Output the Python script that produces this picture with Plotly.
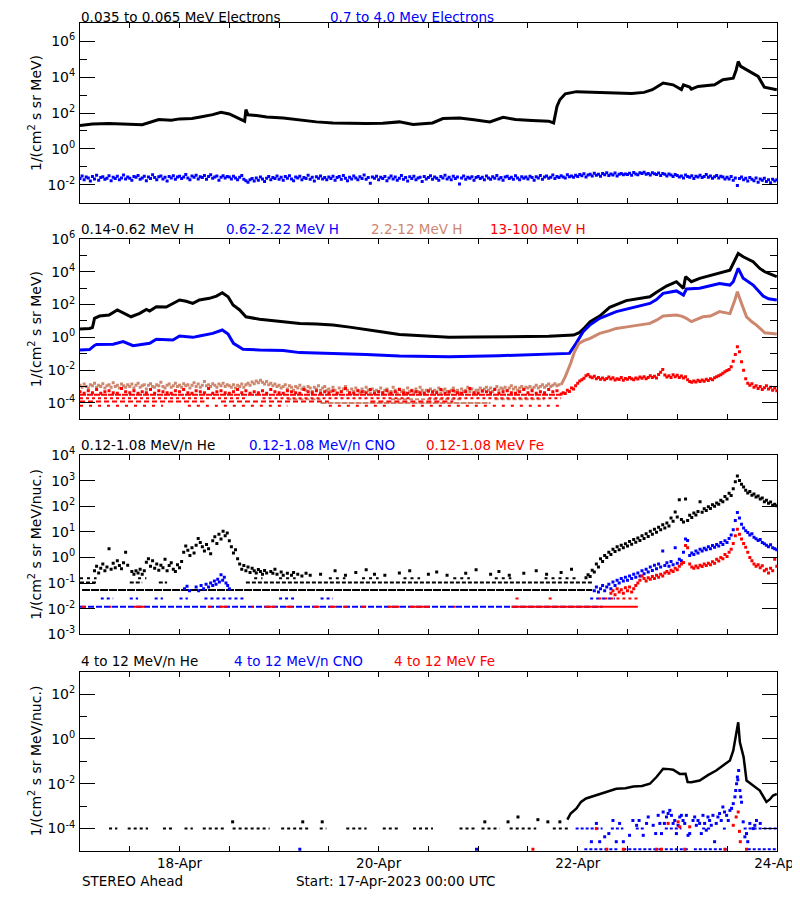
import plotly.graph_objects as go
from plotly.subplots import make_subplots
import pandas as pd

BASE = pd.Timestamp("2023-04-17 00:00")
END = pd.Timestamp("2023-04-24 00:00")

BLACK = "#000000"
BLUE = "#0000FF"
RED = "#FF0000"
BROWN = "#CD876E"

# ---------------- Panel 1 : electrons ----------------
E_LOW_HOURS = [0, 3, 7, 11, 15, 19, 22, 24, 27, 29, 32, 34, 36, 38.5, 39.7, 40, 40.5, 43, 45, 49,
               53, 57, 61, 65, 69, 73, 77, 80.3, 83, 85, 87.5, 91.5, 95, 98.8, 102, 105, 109, 113, 114.2, 114.6,
               115, 115.7, 117, 119.7, 122, 125, 129, 133, 136, 138, 140.6, 143, 145, 145.5, 147, 147.4, 149, 153, 155, 157.5,
               158.2, 158.7, 159.3, 161.5, 163.5, 165, 166.5, 168]
E_LOW = [20, 24, 26, 24, 22, 43, 40, 47, 50, 60, 81, 110, 89, 47, 35, 155, 79, 71, 60, 52,
         39, 32, 28, 26, 26, 27, 32, 23, 25, 28, 49, 52, 42, 32, 58, 43, 38, 35, 28, 79,
         234, 550, 1175, 1550, 1510, 1410, 1350, 1230, 1410, 2000, 4680, 3720, 2000, 3720, 2820, 2140, 3020, 3720, 7080, 8710,
         25100, 74000, 39800, 20400, 11000, 2750, 2240, 2000]

# 0.7-4.0 MeV electrons, half-hourly samples from 17-Apr 00:00
E_HIGH = [
    0.022, 0.031, 0.019, 0.027, 0.024, 0.016, 0.029, 0.021, 0.034, 0.018, 0.025, 0.028, 0.020, 0.023, 0.032, 0.017, 0.026, 0.022, 0.030, 0.019, 0.024, 0.035, 0.021, 0.027,
    0.023, 0.018, 0.029, 0.026, 0.033, 0.020, 0.024, 0.030, 0.017, 0.027, 0.022, 0.036, 0.025, 0.019, 0.028, 0.031, 0.021, 0.026, 0.016, 0.029, 0.024, 0.032, 0.020, 0.027,
    0.030, 0.022, 0.027, 0.037, 0.024, 0.019, 0.031, 0.026, 0.034, 0.021, 0.028, 0.025, 0.033, 0.020, 0.029, 0.036, 0.023, 0.027, 0.031, 0.018, 0.026, 0.032, 0.024, 0.029,
    0.027, 0.021, 0.030, 0.024, 0.019, 0.026, 0.033, 0.020, 0.017, 0.014, 0.019, 0.022, 0.016, 0.024, 0.018, 0.027, 0.021, 0.015, 0.023, 0.029, 0.019, 0.025, 0.022, 0.031,
    0.020, 0.026, 0.018, 0.029, 0.023, 0.032, 0.021, 0.017, 0.027, 0.024, 0.030, 0.019, 0.025, 0.022, 0.034, 0.020, 0.026, 0.016, 0.028, 0.023, 0.031, 0.021, 0.025, 0.019,
    0.027, 0.022, 0.030, 0.018, 0.025, 0.029, 0.020, 0.033, 0.023, 0.017, 0.026, 0.021, 0.031, 0.024, 0.019, 0.028, 0.022, 0.035, 0.020, 0.025, 0.012, 0.027, 0.023, 0.030,
    0.019, 0.026, 0.022, 0.029, 0.017, 0.024, 0.031, 0.021, 0.027, 0.018, 0.023, 0.033, 0.020, 0.025, 0.016, 0.028, 0.022, 0.030, 0.019, 0.024, 0.026, 0.015, 0.029, 0.021,
    0.025, 0.032, 0.020, 0.027, 0.023, 0.018, 0.029, 0.024, 0.034, 0.021, 0.026, 0.019, 0.030, 0.022, 0.027, 0.011, 0.024, 0.031, 0.020, 0.026, 0.023, 0.028, 0.018, 0.025,
    0.029, 0.022, 0.026, 0.019, 0.031, 0.024, 0.020, 0.028, 0.023, 0.033, 0.021, 0.025, 0.018, 0.027, 0.030, 0.022, 0.026, 0.020, 0.032, 0.024, 0.019, 0.028, 0.023, 0.027,
    0.021, 0.030, 0.025, 0.018, 0.028, 0.024, 0.033, 0.020, 0.027, 0.031, 0.023, 0.026, 0.035, 0.022, 0.029, 0.025, 0.032, 0.027, 0.024, 0.036, 0.028, 0.031, 0.026, 0.034,
    0.029, 0.037, 0.032, 0.041, 0.027, 0.035, 0.039, 0.031, 0.044, 0.034, 0.038, 0.030, 0.042, 0.036, 0.047, 0.033, 0.040, 0.035, 0.045, 0.031, 0.038, 0.043, 0.036, 0.040,
    0.037, 0.044, 0.034, 0.049, 0.040, 0.036, 0.046, 0.042, 0.050, 0.038, 0.043, 0.035, 0.047, 0.041, 0.037, 0.045, 0.033, 0.042, 0.038, 0.031, 0.040, 0.035, 0.029, 0.037,
    0.033, 0.027, 0.031, 0.024, 0.035, 0.029, 0.026, 0.032, 0.022, 0.030, 0.027, 0.034, 0.025, 0.029, 0.037, 0.026, 0.031, 0.023, 0.028, 0.033, 0.024, 0.030, 0.027, 0.021,
    0.026, 0.021, 0.029, 0.018, 0.024, 0.009, 0.022, 0.027, 0.019, 0.023, 0.016, 0.025, 0.020, 0.017, 0.024, 0.014, 0.021, 0.018, 0.023, 0.015, 0.019, 0.013, 0.020, 0.016,
    0.019]

# ---------------- Panel 2 : protons ----------------
H_LOW_HOURS = [0, 2.3, 3.0, 3.5, 4.7, 7, 9, 10.4, 12.3, 14.4, 16, 16.8, 18.4, 20.8, 22.4, 24, 25.6, 27.2, 28.8, 31.2,
               32.9, 34.3, 35.7, 36.9, 38.5, 40, 43.3, 49, 53, 57, 61, 65, 69, 73, 77, 83, 89, 95, 101, 107,
               113, 119, 120.5, 121.7, 123, 125.3, 127.7, 131.7, 137.4, 139, 141.4, 143.8, 145.2, 145.5, 146, 147.4, 149.4, 153.4, 156.7, 157.5,
               158.7, 159.9, 162.3, 163.9, 165.1, 166.5, 168]
H_LOW = [3.2, 3.5, 4.0, 14.5, 20, 23, 47, 32, 18, 29, 51, 40, 74, 71, 117, 190, 158, 117, 190, 240,
         330, 525, 300, 93, 47, 18, 12.6, 9.1, 7.1, 6.6, 5.6, 4.2, 3.1, 2.1, 1.5, 1.26, 1.0, 1.05, 1.1, 1.07,
         1.15, 1.38, 2.0, 4.0, 9.1, 20, 68, 174, 300, 560, 1350, 2500, 1260, 980, 5000, 2500, 4000, 7200, 12600, 32000,
         132000, 83000, 41000, 16000, 10000, 7100, 5000]

H_MID_HOURS = [0, 2.3, 3.5, 4, 8, 10.4, 12.8, 16.8, 18.4, 22.4, 24, 27.2, 28.8, 32, 34.3, 35.7, 37, 39.3, 43.3, 49,
               53, 61, 69, 77, 89, 101, 109, 117, 118, 119.6, 121.3, 122.9, 125.3, 129.3, 133.4, 137.4, 139, 140.6, 143.8, 145.2,
               145.5, 146.2, 149.4, 154.2, 156.7, 157.5, 158.7, 159.9, 162.3, 164.7, 166, 168]
H_MID = [0.17, 0.18, 0.32, 0.37, 0.38, 0.55, 0.31, 0.43, 0.76, 0.69, 1.2, 1.0, 1.2, 1.74, 2.8, 1.6, 0.43, 0.19, 0.17, 0.16,
         0.117, 0.105, 0.091, 0.072, 0.066, 0.076, 0.087, 0.095, 0.105, 0.43, 2.2, 5.6, 14.5, 37, 68, 117, 200, 480, 680, 450,
         380, 890, 980, 1950, 1550, 2450, 16200, 4000, 1550, 330, 225, 190]

H_HIGH_HOURS = [116, 117, 118.3, 119.2, 120.3, 121.5, 123, 125.3, 127.5, 129.3, 131.5, 133.4, 135.5, 137.4, 139, 140.6,
                143.8, 145.2, 146.2, 147.4, 150.2, 152, 154.2, 156.7, 157.9, 158.5, 159.5, 160.7, 162, 163.1, 165.1, 168]
H_HIGH = [1.26e-3, 4e-3, 0.026, 0.126, 0.43, 0.63, 0.87, 1.74, 2.5, 3.5, 4.2, 4.9, 5.6, 7.1, 11.2, 20,
          23, 19, 14.5, 9.1, 18, 20, 37, 28, 190, 600, 117, 18, 8.9, 5.6, 1.9, 1.6]

# 2.2-12 MeV H quiet-time scatter, half-hourly from 00:00
H_HIGH_BG = [
    0.0012, 0.0009, 0.0014, 0.0010, 0.0008, 0.0013, 0.0011, 0.0016, 0.0009, 0.0012, 0.0010, 0.0015, 0.0008, 0.0011, 0.0013, 0.0009, 0.0017, 0.0010, 0.0012, 0.0008, 0.0014, 0.0011, 0.0009, 0.0013,
    0.0010, 0.0014, 0.0008, 0.0012, 0.0016, 0.0009, 0.0011, 0.0013, 0.0007, 0.0012, 0.0015, 0.0010, 0.0009, 0.0013, 0.0011, 0.0018, 0.0010, 0.0008, 0.0012, 0.0014, 0.0009, 0.0011, 0.0016, 0.0010,
    0.0012, 0.0009, 0.0015, 0.0011, 0.0013, 0.0008, 0.0012, 0.0017, 0.0010, 0.0014, 0.0009, 0.0012, 0.0020, 0.0011, 0.0013, 0.0010, 0.0015, 0.0012, 0.0009, 0.0014, 0.0011, 0.0016, 0.0010, 0.0013,
    0.0011, 0.0009, 0.0013, 0.0008, 0.0012, 0.0010, 0.0014, 0.0009, 0.0013, 0.0016, 0.0012, 0.0019, 0.0015, 0.0022, 0.0017, 0.0024, 0.0018, 0.0014, 0.0020, 0.0013, 0.0016, 0.0011, 0.0014, 0.0010,
    0.0012, 0.0008, 0.0010, 0.0013, 0.0007, 0.0011, 0.0009, 0.0006, 0.0010, 0.0008, 0.0012, 0.0007, 0.0009, 0.0006, 0.0010, 0.0008, 0.0005, 0.0009, 0.0007, 0.0011, 0.0006, 0.0008, 0.0010, 0.0006,
    0.0007, 0.0005, 0.0009, 0.0006, 0.0004, 0.0008, 0.0005, 0.0007, 0.0010, 0.0006, 0.0004, 0.0007, 0.0005, 0.0008, 0.0006, 0.0004, 0.0007, 0.0005, 0.0009, 0.0006, 0.0004, 0.0007, 0.0005, 0.0006,
    0.0005, 0.0008, 0.0004, 0.0006, 0.0007, 0.0004, 0.0005, 0.0009, 0.0006, 0.0004, 0.0007, 0.0005, 0.0006, 0.0004, 0.0008, 0.0005, 0.0006, 0.0004, 0.0007, 0.0005, 0.0009, 0.0006, 0.0004, 0.0006,
    0.0005, 0.0007, 0.0004, 0.0006, 0.0005, 0.0008, 0.0004, 0.0006, 0.0007, 0.0005, 0.0004, 0.0006, 0.0008, 0.0005, 0.0006, 0.0004, 0.0007, 0.0005, 0.0006, 0.0009, 0.0005, 0.0007, 0.0004, 0.0006,
    0.0006, 0.0008, 0.0005, 0.0007, 0.0009, 0.0006, 0.0008, 0.0005, 0.0007, 0.0010, 0.0006, 0.0008, 0.0007, 0.0009, 0.0006, 0.0008, 0.0011, 0.0007, 0.0009, 0.0006, 0.0008, 0.0010, 0.0007, 0.0009,
    0.0008, 0.0010, 0.0007, 0.0009, 0.0012, 0.0008, 0.0010, 0.0013, 0.0009, 0.0011, 0.0014, 0.0010, 0.0012, 0.0015, 0.0011, 0.0013]
H_HIGH_LVL_A = 1.65e-4
H_HIGH_LVL_A_SEGS = [[50, 58], [75, 92], [100, 112]]
H_HIGH_LVL_B = 1.0e-4
H_HIGH_LVL_B_SEGS = [[58, 99]]

# 13-100 MeV H : hourly quiet scatter from 00:00, then half-hourly event from 116 h
H_TOP_BG = [
    4.8e-4, 3.9e-4, 5.5e-4, 4.2e-4, 6.5e-4, 3.9e-4, 4.8e-4, 5.5e-4, 4.2e-4, 3.9e-4, 7.6e-4, 4.8e-4,
    4.2e-4, 5.5e-4, 3.9e-4, 4.8e-4, 4.2e-4, 6.5e-4, 3.9e-4, 5.5e-4, 4.8e-4, 4.2e-4, 3.9e-4, 5.5e-4,
    4.8e-4, 6.5e-4, 4.2e-4, 3.9e-4, 5.5e-4, 4.8e-4, 4.2e-4, 7.6e-4, 3.9e-4, 4.8e-4, 5.5e-4, 4.2e-4,
    3.9e-4, 4.8e-4, 6.5e-4, 4.2e-4, 5.5e-4, 3.9e-4, 4.8e-4, 4.2e-4, 5.5e-4, 3.9e-4, 6.5e-4, 4.8e-4,
    4.2e-4, 3.9e-4, 5.5e-4, 4.8e-4, 4.2e-4, 3.9e-4, 6.5e-4, 4.8e-4, 4.2e-4, 5.5e-4, 3.9e-4, 4.8e-4,
    4.2e-4, 5.5e-4, 3.9e-4, 4.8e-4, 7.6e-4, 4.2e-4, 3.9e-4, 5.5e-4, 4.8e-4, 4.2e-4, 6.5e-4, 3.9e-4,
    4.8e-4, 4.2e-4, 5.5e-4, 3.9e-4, 4.8e-4, 6.5e-4, 4.2e-4, 3.9e-4, 5.5e-4, 4.8e-4, 4.2e-4, 3.9e-4,
    5.5e-4, 4.8e-4, 4.2e-4, 6.5e-4, 3.9e-4, 4.8e-4, 5.5e-4, 4.2e-4, 3.9e-4, 4.8e-4, 7.6e-4, 4.2e-4,
    3.9e-4, 5.5e-4, 4.8e-4, 4.2e-4, 6.5e-4, 3.9e-4, 4.8e-4, 5.5e-4, 4.2e-4, 3.9e-4, 4.8e-4, 6.5e-4,
    4.2e-4, 5.5e-4, 3.9e-4, 4.8e-4, 4.2e-4, 6.5e-4, 4.8e-4, 5.5e-4]
H_TOP_LEVELS = [3.2e-4, 1.9e-4, 1.2e-4, 6.8e-5]
H_TOP_LEVEL_SEGS = [[[0, 116]],
                    [[0, 40], [44, 80], [84, 116]],
                    [[0, 30], [34, 60], [70, 90]],
                    [[0, 20], [26, 50], [60, 75], [80, 116]]]
H_TOP_EVENT_START = 116
H_TOP_EVENT = [
    3.5e-4, 4.2e-4, 3.8e-4, 6e-4, 5e-4, 8e-4, 7e-4, 1.1e-3, 1.6e-3, 2.2e-3, 2.6e-3, 3.2e-3,
    4.5e-3, 5.5e-3, 4.0e-3, 3.4e-3, 4.2e-3, 3.0e-3, 3.6e-3, 2.8e-3, 3.3e-3, 2.6e-3, 3.1e-3, 3.8e-3,
    2.9e-3, 3.4e-3, 2.5e-3, 3.0e-3, 2.7e-3, 3.5e-3, 2.4e-3, 3.1e-3, 2.8e-3, 3.6e-3, 3.0e-3, 2.6e-3,
    3.3e-3, 2.9e-3, 3.8e-3, 3.2e-3, 4.0e-3, 3.0e-3, 3.5e-3, 4.6e-3, 3.6e-3, 4.2e-3, 3.3e-3, 5.5e-3,
    7.5e-3, 1.1e-2, 5.0e-3, 3.8e-3, 4.6e-3, 3.5e-3, 5.2e-3, 4.0e-3, 4.8e-3, 3.6e-3, 4.4e-3, 3.3e-3,
    4.0e-3, 2.6e-3, 2.0e-3, 1.8e-3, 2.2e-3, 1.9e-3, 2.4e-3, 2.0e-3, 2.5e-3, 2.1e-3, 2.8e-3, 2.3e-3,
    3.0e-3, 2.6e-3, 3.4e-3, 3.9e-3, 4.5e-3, 5.2e-3, 6.5e-3, 8.0e-3, 9.5e-3, 1.1e-2, 1.6e-2, 3.5e-2,
    9.0e-2, 2.7e-1, 1.3e-1, 3.3e-2, 1.0e-2, 3.0e-3, 1.6e-3, 1.2e-3, 1.5e-3, 9.0e-4, 1.1e-3, 7.5e-4,
    1.0e-3, 6.5e-4, 8.5e-4, 1.1e-3, 7.0e-4, 9.0e-4, 6.0e-4, 8.0e-4, 5.5e-4]

# ---------------- Panel 3 : 0.12-1.08 MeV/n ions ----------------
HE_LO_LEVELS = [0.054, 0.105, 0.155]
HE_LO_LEVEL_SEGS = [[[0.5, 123.5]],
                    [[0, 4], [12, 15], [19, 21], [40, 123.5]],
                    [[0, 4], [14, 16], [42, 44], [48, 52], [60, 64], [68, 72], [78, 82], [90, 94], [100, 104], [112, 120]]]
HE_LO_EVENT_START = 3.0
HE_LO_EVENT = [
    None, 0.30, 0.45, 0.25, 0.38, 0.55, 0.30, 0.42, 2.2, 0.35,
    0.60, 0.40, 0.75, 0.48, 0.36, 0.62, 1.6, 0.50, None, 0.28,
    0.22, 0.30, 0.25, 0.35, 0.22, 0.30, 0.65, 0.9, 0.45, 0.75,
    0.38, 0.55, 0.32, 0.50, 0.40, 0.85, 0.30, 0.48, 0.62, 0.35,
    0.28, 0.52, 0.40, 0.70, 1.6, 2.8, 1.9, 1.2, 2.4, 1.5,
    3.0, 5.5, 3.8, 2.6, 1.8, 3.2, 2.2, 1.4, 4.5, 6.5,
    3.5, 8.0, 5.2, 10.5, 7.0, 9.0, 4.5, 2.6, 1.5, 2.0,
    0.9, 0.55, 0.35, 0.48, 0.30, 0.42, 0.26, 0.38, 0.30, 0.25,
    0.34, 0.28, 0.22, 0.31, 0.25, None, 0.28, 0.24, 0.35, 0.22,
    None, 0.27, 0.20, None, 0.24, None, 0.20, 0.26, None, 0.22,
    None, 0.19, None, 0.24, None, 0.20]
HE_LO_SPARSE_HOURS = [58, 61.5, 64, 66.5, 69, 71, 73.5, 77, 79.5, 84, 86, 88.5, 93, 95.5, 99, 101, 103.5, 107, 110, 112.5, 116, 118.5]
HE_LO_SPARSE = [0.22, 0.30, 0.20, 0.26, 0.33, 0.22, 0.20, 0.25, 0.30, 0.22, 0.27, 0.20, 0.24, 0.33, 0.22, 0.28, 0.20, 0.24, 0.30, 0.22, 0.26, 0.35]
HE_LO_RISE_START = 122.0
HE_LO_RISE = [
    0.16, 0.21, 0.18, 0.32, 0.27, 0.55, 0.42, 0.9, 0.7, 1.2,
    1.0, 1.6, 1.3, 2.1, 1.7, 2.6, 2.0, 3.0, 2.4, 3.4,
    2.8, 4.2, 3.3, 5.0, 3.9, 5.8, 4.6, 7.0, 5.5, 8.4,
    6.6, 10.5, 8.0, 12.5, 9.6, 15, 12, 19, 14, 22,
    17, 35, 26, 60, 38, 180, 30, 24, 190, 28,
    44, 36, 55, 45, 62, 150, 58, 80, 68, 95,
    82, 115, 100, 135, 120, 170, 150, 240, 190, 320,
    260, 480, 900, 1500, 1000, 720, 560, 420, 330, 380,
    270, 300, 230, 250, 190, 210, 150, 170, 130, 145,
    110, 120, 105]

CNO_LO_LEVELS = [0.0118, 0.025]
CNO_LO_LEVEL_SEGS = [[[0, 126]],
                     [[5, 8], [12, 14], [18, 20], [24, 26], [30, 40], [48, 52], [58, 61], [123, 129]]]
CNO_LO_EVENT_HOURS = [25.2, 25.8, 26.4, 28.0, 28.6, 29.2, 29.8, 30.4, 31.0, 31.5, 32.0, 32.4, 32.8, 33.2, 33.6, 34.0, 34.4, 34.8, 35.2, 35.6, 36.0]
CNO_LO_EVENT = [0.06, 0.075, 0.05, 0.07, 0.05, 0.08, 0.06, 0.09, 0.07, 0.10, 0.08, 0.12, 0.09, 0.14, 0.11, 0.21, 0.13, 0.17, 0.10, 0.08, 0.06]
CNO_LO_RISE_START = 124.0
CNO_LO_RISE = [
    0.05, 0.07, 0.045, 0.06, 0.08, 0.05, 0.07, 0.09, 0.06, 0.11,
    0.08, 0.13, 0.10, 0.15, 0.12, 0.17, 0.13, 0.19, 0.15, 0.22,
    0.17, 0.25, 0.19, 0.30, 0.23, 0.35, 0.27, 0.42, 0.31, 0.50,
    0.36, 0.55, 0.42, 1.8, 0.48, 0.62, 0.45, 0.70, 0.52, 2.4,
    0.60, 0.85, 0.75, 1.6, 5.2, 4.6, 1.2, 1.5, 1.3, 1.8,
    1.5, 2.1, 1.8, 2.3, 2.0, 2.6, 2.2, 2.9, 2.5, 3.2,
    2.8, 3.8, 3.2, 4.5, 3.8, 5.5, 7.5, 12, 28, 57,
    35, 20, 14, 11, 9.5, 7.5, 8.5, 6.2, 5.4, 4.6,
    5.0, 3.8, 3.4, 3.0, 2.6, 3.1, 2.4, 2.2, 2.0]

FE_LO_LEVELS = [0.0118, 0.025]
FE_LO_LEVEL_SEGS = [[[0.3, 1.4], [7, 7.6], [13, 15.6], [30.8, 31.6], [33.6, 35.6], [41.4, 41.8], [44.5, 47.3], [49.7, 51.3],
                     [56.2, 57.8], [60.2, 61.8], [63.4, 64.6], [67.8, 69], [74.2, 77.1], [79.5, 84.3], [90, 90.6], [104, 134.5]],
                    [[105, 106], [113, 114], [125, 134.5]]]
FE_LO_RISE_START = 128.0
FE_LO_RISE = [
    0.040, 0.050, 0.035, 0.060, 0.045, 0.055, 0.040, 0.065, 0.050, 0.070,
    0.045, 0.060, 0.080, 0.10, 0.13, 0.19, 0.15, 0.12, 0.16, 0.14,
    0.18, 0.15, 0.20, 0.17, 0.22, 0.19, 0.25, 0.28, 0.24, 0.32,
    0.28, 0.38, 0.33, 0.45, 0.55, 0.63, 2.9, 2.4, 0.55, 0.42,
    0.38, 0.46, 0.40, 0.50, 0.44, 0.55, 0.48, 0.60, 0.52, 0.68,
    0.60, 0.85, 0.72, 1.0, 0.90, 1.3, 1.1, 1.6, 2.1, 3.5,
    7.0, 12.6, 8.0, 5.2, 3.5, 2.5, 1.6, 1.0, 0.74, 0.55,
    0.45, 0.52, 0.40, 0.47, 0.30, 0.35, 0.25, 0.38, 0.30, 0.85,
    0.45]

# ---------------- Panel 4 : 4-12 MeV/n ions ----------------
HE_HI_LEVEL = 1e-4
HE_HI_LEVEL_SEGS = [[7, 9], [11.5, 16.4], [20, 22.6], [25.2, 27.2], [29.6, 35.2], [36.8, 45.7], [48.5, 55.4], [57.8, 59.4],
                    [64.2, 69.1], [73, 77], [80.3, 85.1], [91.5, 95.6], [96.8, 101.2], [103.6, 110], [114, 118]]
HE_HI_PTS_HOURS = [36.8, 53.7, 58.4, 97.6, 103.2, 105.6, 110.4, 112.8, 115.7]
HE_HI_PTS = [2e-4, 2e-4, 2e-4, 2e-4, 2e-4, 3.3e-4, 2.5e-4, 2e-4, 2e-4]
HE_HI_HOURS = [117.5, 118.3, 119.7, 120.8, 122, 123, 125.3, 127, 129.3, 131.5, 133.4, 135.5, 137.4, 139, 140.6, 142, 143, 144.6, 146, 146.5,
               147.4, 149.4, 150.2, 151.5, 153.4, 155, 156.7, 157.5, 158.3, 158.7, 159.1, 159.5, 160, 160.7, 162.3, 163.9, 165.5, 166.3, 167.1, 168]
HE_HI = [2.5e-4, 4.7e-4, 7.9e-4, 1.55e-3, 2.2e-3, 2.5e-3, 3.6e-3, 4.5e-3, 6e-3, 6.3e-3, 7.6e-3, 7.9e-3, 0.01, 0.02, 0.047, 0.045, 0.042, 0.0275, 0.028, 0.012,
         0.0117, 0.014, 0.0178, 0.025, 0.039, 0.065, 0.11, 0.3, 2.3, 5.5, 0.7, 0.32, 0.155, 0.014, 0.0085, 0.005, 0.00155, 0.002, 0.003, 0.0035]

CNO_HI_LEVELS = [1e-4, 1.2e-5]
CNO_HI_LEVEL_SEGS = [[[119.5, 126], [128, 131], [134, 136], [141, 145], [150, 152], [155, 156], [160, 168]],
                     [[121.6, 130], [131, 140], [141, 147], [148, 156], [161, 168]]]
CNO_HI_HOURS = [53, 95.6,
                123.3, 125.3, 126.5, 128.5, 129.3, 130.1, 132.5, 133.3, 134.2, 135.8, 136.6, 138.2, 139.4, 139.8, 140.2, 140.6, 141.4, 142.2, 142.6, 143.0,
                143.8, 144.6, 145.4, 146.2, 147.0, 147.8, 148.6, 149.4, 150.2, 151.0, 151.8, 152.6, 153.4, 154.2, 155.0, 155.9, 156.7, 157.5, 157.9, 158.3,
                158.5, 158.8, 159.1, 159.5, 159.9, 160.7, 161.5, 162.3, 163.1,
                124.5, 127.5, 131.0, 134.8, 137.0, 138.8, 140.9, 141.8, 143.4, 144.2, 145.0, 145.8, 146.6, 148.2, 149.0, 149.8, 150.6, 151.4, 152.2, 153.0,
                153.8, 154.6, 155.4, 156.3, 157.1, 158.1, 158.6, 159.3, 160.3, 161.0, 162.7, 164.0]
CNO_HI = [1.2e-5, 1.2e-5,
          2.6e-5, 2.6e-5, 4.3e-5, 2.3e-4, 2.6e-5, 1.7e-4, 5e-5, 2.3e-4, 1.4e-4, 5e-5, 1.7e-4, 1.4e-4, 3.9e-4, 1.7e-4, 6e-5, 5.5e-4, 3.3e-4, 6.5e-4, 3.9e-4, 1.7e-4,
          6e-5, 3.3e-4, 2.3e-4, 3.9e-4, 6e-5, 2.3e-4, 1.4e-4, 1.7e-4, 3.9e-4, 8.5e-5, 2.3e-4, 3.9e-4, 1.7e-4, 4.7e-4, 9.2e-4, 3.9e-4, 6.5e-4, 1.3e-3, 2.6e-3, 0.01,
          0.02, 0.039, 5e-3, 1.5e-3, 2e-4, 6e-5, 1.7e-4, 1e-4, 2.3e-4,
          1.7e-4, 6e-5, 2.6e-5, 2.3e-4, 3.3e-4, 6e-5, 1.7e-4, 4.7e-4, 2.3e-4, 1.4e-4, 3.9e-4, 1.7e-4, 5e-5, 3.3e-4, 2.3e-4, 6e-5, 1.7e-4, 3.3e-4, 1.4e-4, 2.6e-5,
          3.3e-4, 2.3e-4, 5.5e-4, 2.3e-4, 8e-4, 5e-3, 0.015, 2.6e-3, 4.3e-5, 2.6e-5, 1.4e-4, 1.7e-4]

FE_HI_HOURS = [109.2, 124.5, 127, 131, 139, 140.2, 141.8, 144.2, 144.6, 145.8, 147, 155.5, 157.5, 158.2, 158.7, 159.0, 159.2, 160.7]
FE_HI = [1.2e-5, 1e-4, 1.2e-5, 1.2e-5, 1.2e-5, 1.2e-5, 1.7e-4, 2e-4, 1.2e-4, 1.2e-5, 1.2e-4, 1.2e-5, 1.4e-4, 3.3e-4, 5.5e-4, 7.5e-5, 2.6e-5, 1.2e-5]

# ---------------- Axis labels / texts ----------------
X_LABEL_HOURS = [24, 72, 120, 168]
X_LABELS = ["18-Apr", "20-Apr", "22-Apr", "24-Apr"]
X_MINOR_HOURS = [12, 36, 48, 60, 84, 96, 108, 132, 144, 156]

Y_RANGES = [(-3, 7), (-5, 6), (-3, 4), (-5, 3)]
Y_MAJOR_EXP = [[-2, 0, 2, 4, 6], [-4, -2, 0, 2, 4, 6], [-3, -2, -1, 0, 1, 2, 3, 4], [-4, -2, 0, 2]]
Y_MINOR_EXP = [[-1, 1, 3, 5], [-3, -1, 1, 3, 5], [], [-3, -1, 1]]
Y_TITLES = ["1/(cm<sup>2</sup> s sr MeV)", "1/(cm<sup>2</sup> s sr MeV)",
            "1/(cm<sup>2</sup> s sr MeV/nuc.)", "1/(cm<sup>2</sup> s sr MeV/nuc.)"]
PANEL_TITLES = [
    [("0.035 to 0.065 MeV Electrons", BLACK), ("0.7 to 4.0 Mev Electrons", BLUE)],
    [("0.14-0.62 MeV H", BLACK), ("0.62-2.22 MeV H", BLUE), ("2.2-12 MeV H", BROWN), ("13-100 MeV H", RED)],
    [("0.12-1.08 MeV/n He", BLACK), ("0.12-1.08 MeV/n CNO", BLUE), ("0.12-1.08 MeV Fe", RED)],
    [("4 to 12 MeV/n He", BLACK), ("4 to 12 MeV/n CNO", BLUE), ("4 to 12 MeV Fe", RED)],
]
FOOT_LEFT = "STEREO Ahead"
FOOT_MID = "Start: 17-Apr-2023 00:00 UTC"

# ---------------- layout geometry ----------------
# the page body adds an 8px offset, so the figure is 8px smaller than the window
W, H = 792, 884
ML, MR, MT, MB = 72, 23, 15, 41
PW, PH = W - ML - MR, H - MT - MB
OFF = 8
# reference-window pixel positions
PANEL_PX = [(23.3, 202.7), (239, 419.3), (455, 634.3), (671.7, 851)]
TITLE_PX_Y = [17, 229, 445, 661]
TITLE_PX_X = [[80, 329], [80, 225, 370, 489], [80, 248, 425], [80, 233, 393]]


def px_x(x):
    return (x - OFF - ML) / PW


def px_y(y):
    return (H - MB - (y - OFF)) / PH


def T(hours):
    return [None if h is None else BASE + pd.Timedelta(hours=h) for h in hours]


def grid(start, n, step=0.5):
    return [start + step * i for i in range(n)]


fig = make_subplots(rows=4, cols=1)


def add_line(hours, vals, color, row, width=3.0):
    fig.add_trace(go.Scatter(x=T(hours), y=vals, mode="lines", line=dict(color=color, width=width),
                             hoverinfo="skip"), row=row, col=1)


def add_dots(hours, vals, color, row, size=3):
    fig.add_trace(go.Scatter(x=T(hours), y=vals, mode="markers",
                             marker=dict(symbol="square", size=size, color=color, line=dict(width=0)),
                             hoverinfo="skip"), row=row, col=1)


def add_levels(seglist, level, color, row, dash, width=2):
    xs, ys = [], []
    for a, b in seglist:
        xs += [a, b, None]
        ys += [level, level, None]
    fig.add_trace(go.Scatter(x=T(xs), y=ys, mode="lines", line=dict(color=color, width=width, dash=dash),
                             hoverinfo="skip", connectgaps=False), row=row, col=1)


# Panel 1
add_line(E_LOW_HOURS, E_LOW, BLACK, 1)
add_dots(grid(0, len(E_HIGH)), E_HIGH, BLUE, 1)

# Panel 2
add_line(H_LOW_HOURS, H_LOW, BLACK, 2)
add_line(H_MID_HOURS, H_MID, BLUE, 2)
add_dots(grid(0, len(H_HIGH_BG)), H_HIGH_BG, BROWN, 2)
add_levels(H_HIGH_LVL_A_SEGS, H_HIGH_LVL_A, BROWN, 2, "4px,2px")
add_levels(H_HIGH_LVL_B_SEGS, H_HIGH_LVL_B, BROWN, 2, "6px,1px")
add_line(H_HIGH_HOURS, H_HIGH, BROWN, 2)
for lvl, sg, dsh in zip(H_TOP_LEVELS, H_TOP_LEVEL_SEGS, ["6px,1px", "3px,3px", "5px,3px", "3px,6px"]):
    add_levels(sg, lvl, RED, 2, dsh)
add_dots(grid(0, len(H_TOP_BG), 1.0), H_TOP_BG, RED, 2)
add_dots(grid(H_TOP_EVENT_START, len(H_TOP_EVENT)), H_TOP_EVENT, RED, 2)

# Panel 3
for lvl, sg, dsh in zip(HE_LO_LEVELS, HE_LO_LEVEL_SEGS, ["8px,1px", "4px,2px", "3px,4px"]):
    add_levels(sg, lvl, BLACK, 3, dsh)
add_dots(grid(HE_LO_EVENT_START, len(HE_LO_EVENT)), HE_LO_EVENT, BLACK, 3)
add_dots(HE_LO_SPARSE_HOURS, HE_LO_SPARSE, BLACK, 3)
add_dots(grid(HE_LO_RISE_START, len(HE_LO_RISE)), HE_LO_RISE, BLACK, 3)
for lvl, sg, dsh in zip(CNO_LO_LEVELS, CNO_LO_LEVEL_SEGS, ["6px,2px", "3px,3px"]):
    add_levels(sg, lvl, BLUE, 3, dsh)
add_dots(CNO_LO_EVENT_HOURS, CNO_LO_EVENT, BLUE, 3)
add_dots(grid(CNO_LO_RISE_START, len(CNO_LO_RISE)), CNO_LO_RISE, BLUE, 3)
for lvl, sg, dsh in zip(FE_LO_LEVELS, FE_LO_LEVEL_SEGS, ["solid", "3px,3px"]):
    add_levels(sg, lvl, RED, 3, dsh)
add_dots(grid(FE_LO_RISE_START, len(FE_LO_RISE)), FE_LO_RISE, RED, 3)

# Panel 4
add_levels(HE_HI_LEVEL_SEGS, HE_HI_LEVEL, BLACK, 4, "3px,3px")
add_dots(HE_HI_PTS_HOURS, HE_HI_PTS, BLACK, 4)
add_line(HE_HI_HOURS, HE_HI, BLACK, 4, width=2.5)
for lvl, sg in zip(CNO_HI_LEVELS, CNO_HI_LEVEL_SEGS):
    add_levels(sg, lvl, BLUE, 4, "3px,2px")
add_dots(CNO_HI_HOURS, CNO_HI, BLUE, 4)
add_dots(FE_HI_HOURS, FE_HI, RED, 4)

# ---------------- axes ----------------
def sup(e):
    return "10<sup>%d</sup>" % e


X_RANGE = [BASE, END + pd.Timedelta(minutes=3)]

for i in range(4):
    r = i + 1
    top, bot = PANEL_PX[i]
    fig.update_xaxes(row=r, col=1, type="date", range=X_RANGE, tickmode="array",
                     tickvals=T(X_LABEL_HOURS), ticktext=X_LABELS,
                     ticks="inside", ticklen=5, tickwidth=1, tickcolor="black",
                     minor=dict(tickmode="array", tickvals=T(X_MINOR_HOURS), ticks="inside", ticklen=5,
                                tickwidth=1, tickcolor="black", showgrid=False),
                     showline=True, linecolor="black", linewidth=1, mirror="ticks",
                     showgrid=False, zeroline=False, showticklabels=(r == 4), automargin=False,
                     tickfont=dict(family="DejaVu Sans", size=13.5, color="black"))
    fig.update_yaxes(row=r, col=1, type="log", range=list(Y_RANGES[i]), domain=[px_y(bot), px_y(top)],
                     tickmode="array", tickvals=[10.0 ** e for e in Y_MAJOR_EXP[i]],
                     ticktext=[sup(e) for e in Y_MAJOR_EXP[i]],
                     ticks="inside", ticklen=15, tickwidth=1, tickcolor="black",
                     minor=dict(tickmode="array", tickvals=[10.0 ** e for e in Y_MINOR_EXP[i]],
                                ticks="inside", ticklen=7, tickwidth=1, tickcolor="black", showgrid=False),
                     showline=True, linecolor="black", linewidth=1, mirror="ticks",
                     showgrid=False, zeroline=False, ticklabelstandoff=1, automargin=False,
                     tickfont=dict(family="DejaVu Sans", size=14, color="black"))

ann = []
for i in range(4):
    for (txt, col), xp in zip(PANEL_TITLES[i], TITLE_PX_X[i]):
        ann.append(dict(text=txt, x=px_x(xp), y=px_y(TITLE_PX_Y[i]), xref="paper", yref="paper",
                        xanchor="left", yanchor="middle", showarrow=False, borderpad=0,
                        font=dict(family="DejaVu Sans", size=13.5, color=col)))
    top, bot = PANEL_PX[i]
    ann.append(dict(text=Y_TITLES[i], x=px_x(35), y=px_y((top + bot) / 2), xref="paper", yref="paper",
                    xanchor="center", yanchor="middle", textangle=-90, showarrow=False,
                    font=dict(family="DejaVu Sans", size=14, color="black")))
ann.append(dict(text=FOOT_LEFT, x=px_x(80), y=px_y(881), xref="paper", yref="paper", xanchor="left",
                yanchor="middle", showarrow=False, font=dict(family="DejaVu Sans", size=13.5, color="black")))
ann.append(dict(text=FOOT_MID, x=px_x(294), y=px_y(881), xref="paper", yref="paper", xanchor="left",
                yanchor="middle", showarrow=False, font=dict(family="DejaVu Sans", size=13.5, color="black")))

fig.update_layout(width=W, height=H, margin=dict(l=ML, r=MR, t=MT, b=MB),
                  paper_bgcolor="white", plot_bgcolor="white", showlegend=False,
                  annotations=ann, font=dict(family="DejaVu Sans", size=14, color="black"))

fig.write_html("out.html")
